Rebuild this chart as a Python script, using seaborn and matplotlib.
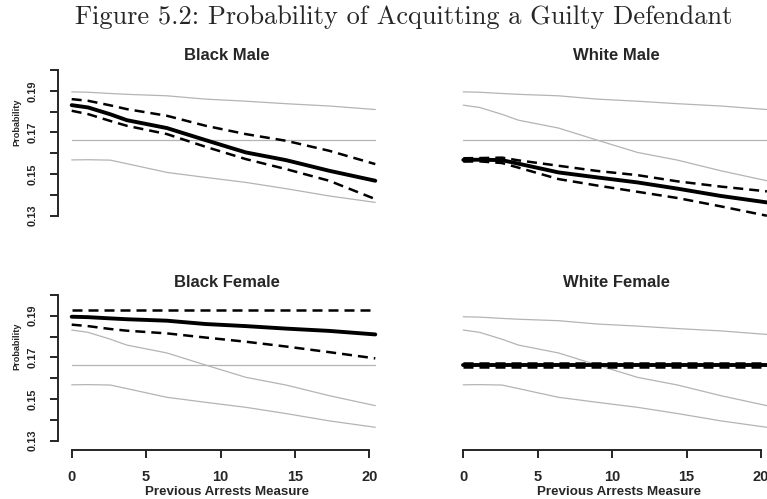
import matplotlib
matplotlib.use("Agg")
import matplotlib.pyplot as plt
import pandas as pd
import seaborn as sns
from matplotlib.ticker import FixedLocator, FixedFormatter

# ---- data -------------------------------------------------------------
arrests = [0.0, 1.1, 2.6, 3.7, 6.4, 9.0, 11.7, 14.4, 17.3, 20.4]

black_male_mean = [0.1831, 0.1820, 0.1787, 0.1759, 0.1721, 0.1663, 0.1604, 0.1567, 0.1516, 0.1468]
black_male_hi = [0.1860, 0.1852, 0.1830, 0.1812, 0.1780, 0.1732, 0.1692, 0.1660, 0.1612, 0.1548]
black_male_lo = [0.1804, 0.1788, 0.1755, 0.1732, 0.1692, 0.1631, 0.1572, 0.1524, 0.1468, 0.1380]

white_male_mean = [0.1568, 0.1569, 0.1567, 0.1550, 0.1508, 0.1484, 0.1460, 0.1430, 0.1395, 0.1364]
white_male_hi = [0.1576, 0.1577, 0.1579, 0.1566, 0.1540, 0.1515, 0.1495, 0.1465, 0.1440, 0.1417]
white_male_lo = [0.1560, 0.1561, 0.1553, 0.1531, 0.1476, 0.1445, 0.1415, 0.1385, 0.1345, 0.1300]

black_female_mean = [0.1895, 0.1893, 0.1887, 0.1883, 0.1876, 0.1860, 0.1850, 0.1838, 0.1827, 0.1810]
black_female_hi = [0.1929, 0.1929, 0.1929, 0.1929, 0.1929, 0.1929, 0.1929, 0.1929, 0.1929, 0.1929]
black_female_lo = [0.1857, 0.1850, 0.1836, 0.1828, 0.1815, 0.1795, 0.1775, 0.1752, 0.1725, 0.1695]

white_female_mean = [0.1663] * 10
white_female_hi = [0.1672] * 10
white_female_lo = [0.1654] * 10

groups = ["Black Male", "White Male", "Black Female", "White Female"]
x_ticks = [0, 5, 10, 15, 20]
y_ticks = [0.13, 0.14, 0.15, 0.16, 0.17, 0.18, 0.19, 0.20]
y_tick_labels = ["0.13", "", "0.15", "", "0.17", "", "0.19", ""]

series = {
    "Black Male": (black_male_mean, black_male_lo, black_male_hi),
    "White Male": (white_male_mean, white_male_lo, white_male_hi),
    "Black Female": (black_female_mean, black_female_lo, black_female_hi),
    "White Female": (white_female_mean, white_female_lo, white_female_hi),
}

rows = []
for g, (m, lo, hi) in series.items():
    for kind, vals in (("mean", m), ("lo", lo), ("hi", hi)):
        for x, v in zip(arrests, vals):
            rows.append({"group": g, "kind": kind, "arrests": x, "prob": v})
df = pd.DataFrame(rows)

# ---- style ------------------------------------------------------------
sns.set_style("ticks")
plt.rcParams["font.family"] = ["Liberation Sans", "DejaVu Sans"]

W, H = 767, 499
fig = plt.figure(figsize=(W / 100, H / 100), dpi=100)

# panel boxes in pixels: left, top (width and height shared)
ax_w, ax_h = 328.9, 164.5
boxes = {
    "Black Male": (58.3, 60.6),
    "White Male": (449.9, 60.6),
    "Black Female": (58.3, 285.5),
    "White Female": (449.9, 285.5),
}
title_pos = {
    "Black Male": (0.513, 1.028),
    "White Male": (0.507, 1.028),
    "Black Female": (0.513, 1.020),
    "White Female": (0.507, 1.020),
}

gray = "#b4b4b4"
dash = (0, (4.0, 2.4))

for i, g in enumerate(groups):
    lx, ty = boxes[g]
    ax = fig.add_axes([lx / W, 1 - (ty + ax_h) / H, ax_w / W, ax_h / H])
    ax.set_facecolor("none")

    # the other three groups' predicted probabilities as grey reference lines
    for other in groups:
        if other == g:
            continue
        sub = df[(df.group == other) & (df.kind == "mean")]
        sns.lineplot(data=sub, x="arrests", y="prob", ax=ax, color=gray,
                     lw=0.9, estimator=None, sort=False, legend=False)

    # this group's prediction with its confidence band
    sns.lineplot(data=df[(df.group == g) & (df.kind == "mean")], x="arrests", y="prob",
                 ax=ax, color="black", lw=2.8, estimator=None, sort=False, legend=False)
    for kind in ("lo", "hi"):
        sns.lineplot(data=df[(df.group == g) & (df.kind == kind)], x="arrests", y="prob",
                     ax=ax, color="black", lw=1.8, linestyle=dash,
                     estimator=None, sort=False, legend=False)

    ax.set_xlim(-0.9, 21.2)
    ax.set_ylim(0.1255, 0.2045)
    sns.despine(ax=ax)

    left_col = i % 2 == 0
    bottom_row = i >= 2

    if left_col:
        ax.yaxis.set_major_locator(FixedLocator(y_ticks))
        ax.yaxis.set_major_formatter(FixedFormatter(y_tick_labels))
        ax.spines["left"].set_bounds(0.13, 0.20)
        ax.spines["left"].set_linewidth(1.4)
        ax.tick_params(axis="y", length=5.8, width=1.4, pad=9.2, labelsize=7.9)
        for t in ax.get_yticklabels():
            t.set_rotation(90)
            t.set_va("center")
            t.set_fontweight("bold")
        ax.set_ylabel("Probability", fontsize=6.6, fontweight="bold", va="center")
        ax.yaxis.set_label_coords(-0.1265, 0.628)
    else:
        ax.spines["left"].set_visible(False)
        ax.set_yticks([])
        ax.set_ylabel("")

    if bottom_row:
        ax.set_xticks(x_ticks)
        ax.spines["bottom"].set_bounds(0, 20)
        ax.spines["bottom"].set_linewidth(1.4)
        ax.tick_params(axis="x", length=5.8, width=1.4, pad=8.4, labelsize=10.5)
        for t in ax.get_xticklabels():
            t.set_fontweight("bold")
        ax.set_xlabel("Previous Arrests Measure", fontsize=9.6, fontweight="bold", va="center")
        ax.xaxis.set_label_coords(0.5144, -0.2535)
    else:
        ax.spines["bottom"].set_visible(False)
        ax.set_xticks([])
        ax.set_xlabel("")

    tx, tyy = title_pos[g]
    ax.set_title(g, fontsize=12, fontweight="bold", x=tx, y=tyy, va="center", pad=0)

fig.text(0.526, 1 - 24 / H, "Figure 5.2: Probability of Acquitting a Guilty Defendant",
         fontsize=19, family="cmr10", ha="center", va="baseline")

fig.savefig("out.png", dpi=100)
